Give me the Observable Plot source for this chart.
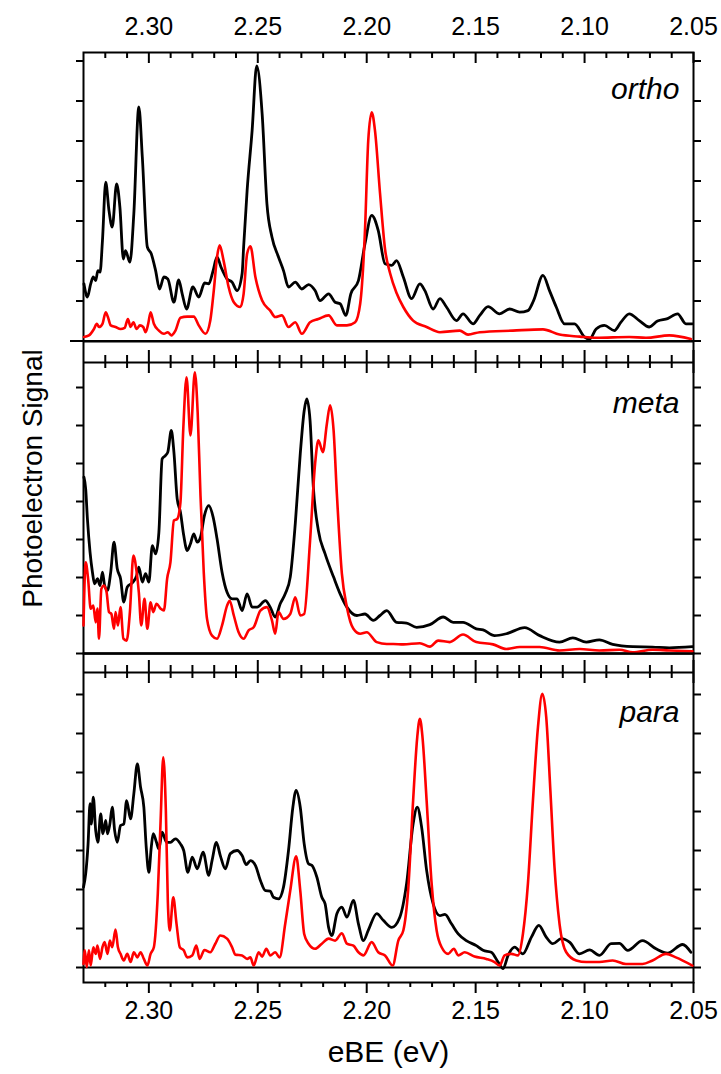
<!DOCTYPE html>
<html><head><meta charset="utf-8">
<script src="https://cdn.jsdelivr.net/npm/d3@7"></script>
<script src="https://cdn.jsdelivr.net/npm/@observablehq/plot@0.6"></script>
<style>
html,body{margin:0;padding:0;background:#fff;}
#chart{position:relative;width:721px;height:1074px;overflow:hidden;}
#chart svg{position:absolute;left:0;}
</style></head><body><div id="chart"></div>
<script>
// ---- axis ticks (eV) ----
const majorTicks = [2.30, 2.25, 2.20, 2.15, 2.10, 2.05];
const minorTicks = [2.32, 2.31, 2.29, 2.28, 2.27, 2.26, 2.24, 2.23, 2.22, 2.21, 2.19, 2.18, 2.17, 2.16, 2.14, 2.13, 2.12, 2.11, 2.09, 2.08, 2.07, 2.06];
const yTicks = [0, 1, 2, 3, 4, 5, 6, 7];
const panelNames = ["ortho", "meta", "para"];

// ---- spectra: [eBE (eV), signal (arb. units)] ----
const orthoBlack = [[2.3298,1.43],[2.3282,1.10],[2.3267,1.43],[2.3255,1.60],[2.3244,1.51],[2.3234,1.76],[2.3224,1.72],[2.3213,2.51],[2.3198,3.97],[2.3183,3.26],[2.3168,2.85],[2.3148,3.93],[2.3133,3.35],[2.3117,2.05],[2.3107,2.26],[2.3087,1.97],[2.3069,3.18],[2.3046,5.85],[2.3030,4.60],[2.3007,2.35],[2.2989,2.18],[2.2969,1.76],[2.2951,1.30],[2.2931,1.60],[2.2913,1.55],[2.2885,0.97],[2.2863,1.53],[2.2847,1.18],[2.2827,0.80],[2.2798,1.35],[2.2771,1.10],[2.2744,1.45],[2.2725,1.43],[2.2705,1.76],[2.2687,2.10],[2.2669,1.85],[2.2641,1.55],[2.2618,1.47],[2.2595,1.26],[2.2572,1.68],[2.2565,2.35],[2.2549,3.76],[2.2526,5.26],[2.2505,6.88],[2.2480,5.68],[2.2458,3.43],[2.2435,2.60],[2.2405,2.10],[2.2382,1.76],[2.2359,1.35],[2.2328,1.47],[2.2298,1.30],[2.2267,1.41],[2.2237,1.26],[2.2214,1.01],[2.2175,1.18],[2.2145,0.97],[2.2122,0.93],[2.2096,0.64],[2.2073,1.18],[2.2038,1.51],[2.2008,2.43],[2.1977,3.14],[2.1947,2.76],[2.1916,1.93],[2.1885,1.89],[2.1863,2.01],[2.1832,1.60],[2.1794,1.06],[2.1756,1.43],[2.1733,1.26],[2.1695,0.80],[2.1664,1.06],[2.1634,0.85],[2.1588,0.51],[2.1558,0.68],[2.1512,0.43],[2.1481,0.64],[2.1443,0.86],[2.1390,0.68],[2.1344,0.80],[2.1298,0.72],[2.1260,0.76],[2.1234,1.01],[2.1191,1.64],[2.1161,1.26],[2.1130,0.85],[2.1092,0.43],[2.1046,0.43],[2.1000,0.10],[2.0977,0.05],[2.0947,0.30],[2.0909,0.39],[2.0863,0.26],[2.0833,0.47],[2.0795,0.68],[2.0749,0.51],[2.0703,0.35],[2.0665,0.50],[2.0619,0.56],[2.0573,0.68],[2.0535,0.43],[2.0505,0.43]];
const orthoRed = [[2.3298,0.10],[2.3275,0.14],[2.3252,0.30],[2.3239,0.43],[2.3229,0.35],[2.3213,0.43],[2.3198,0.72],[2.3188,0.60],[2.3175,0.39],[2.3153,0.35],[2.3130,0.30],[2.3111,0.33],[2.3096,0.55],[2.3084,0.35],[2.3071,0.47],[2.3056,0.30],[2.3041,0.39],[2.3026,0.35],[2.3015,0.22],[2.3003,0.43],[2.2992,0.72],[2.2977,0.43],[2.2954,0.26],[2.2931,0.18],[2.2913,0.22],[2.2897,0.14],[2.2878,0.26],[2.2855,0.58],[2.2824,0.61],[2.2794,0.61],[2.2771,0.39],[2.2740,0.18],[2.2718,0.51],[2.2702,1.26],[2.2687,2.10],[2.2675,2.39],[2.2657,2.01],[2.2634,1.35],[2.2610,0.97],[2.2580,0.85],[2.2565,1.18],[2.2549,2.18],[2.2534,2.37],[2.2511,1.60],[2.2480,1.01],[2.2443,0.76],[2.2420,0.60],[2.2389,0.64],[2.2359,0.35],[2.2328,0.47],[2.2298,0.18],[2.2260,0.47],[2.2222,0.55],[2.2175,0.64],[2.2137,0.39],[2.2091,0.39],[2.2053,0.47],[2.2030,0.93],[2.2008,2.76],[2.1993,5.01],[2.1977,5.72],[2.1962,5.26],[2.1939,3.70],[2.1916,2.30],[2.1893,1.70],[2.1863,1.20],[2.1832,0.85],[2.1787,0.51],[2.1725,0.35],[2.1664,0.22],[2.1573,0.26],[2.1535,0.16],[2.1481,0.22],[2.1329,0.26],[2.1191,0.29],[2.1115,0.16],[2.1023,0.11],[2.0947,0.08],[2.0795,0.10],[2.0718,0.08],[2.0611,0.14],[2.0512,0.05]];

const metaBlack = [[2.3298,4.64],[2.3290,4.33],[2.3282,3.54],[2.3270,2.67],[2.3259,2.14],[2.3249,1.83],[2.3236,1.97],[2.3224,1.79],[2.3213,2.14],[2.3203,1.79],[2.3190,1.66],[2.3175,2.14],[2.3160,2.93],[2.3145,2.23],[2.3130,1.97],[2.3115,1.35],[2.3099,1.75],[2.3076,1.86],[2.3056,2.05],[2.3046,2.27],[2.3030,1.88],[2.3015,2.10],[2.3000,1.88],[2.2984,2.84],[2.2969,2.62],[2.2954,3.19],[2.2939,5.12],[2.2924,5.21],[2.2913,5.30],[2.2897,5.87],[2.2885,5.30],[2.2870,4.07],[2.2855,3.72],[2.2840,3.11],[2.2824,2.71],[2.2809,2.89],[2.2794,3.15],[2.2778,2.93],[2.2763,3.06],[2.2745,3.63],[2.2725,3.89],[2.2705,3.59],[2.2687,3.02],[2.2664,2.14],[2.2641,1.61],[2.2618,1.44],[2.2595,1.44],[2.2572,1.13],[2.2549,1.57],[2.2526,1.22],[2.2503,1.22],[2.2465,1.39],[2.2443,1.22],[2.2420,0.96],[2.2397,1.31],[2.2374,1.57],[2.2351,2.01],[2.2328,3.41],[2.2305,5.26],[2.2287,6.39],[2.2275,6.70],[2.2260,6.13],[2.2245,4.38],[2.2222,3.24],[2.2191,2.62],[2.2152,2.01],[2.2122,1.57],[2.2091,1.22],[2.2045,1.00],[2.2008,1.04],[2.1970,0.87],[2.1939,1.00],[2.1908,1.13],[2.1863,0.82],[2.1817,0.80],[2.1771,0.69],[2.1710,0.76],[2.1649,0.96],[2.1603,0.82],[2.1558,0.82],[2.1497,0.65],[2.1466,0.62],[2.1413,0.47],[2.1359,0.52],[2.1275,0.68],[2.1206,0.47],[2.1115,0.30],[2.1054,0.41],[2.0992,0.30],[2.0932,0.36],[2.0871,0.24],[2.0779,0.18],[2.0688,0.17],[2.0611,0.15],[2.0505,0.18]];
const metaRed = [[2.3300,0.74],[2.3290,2.40],[2.3279,1.97],[2.3267,1.18],[2.3255,1.26],[2.3244,0.82],[2.3236,1.18],[2.3229,0.39],[2.3218,1.70],[2.3206,1.79],[2.3194,1.61],[2.3183,1.09],[2.3172,1.04],[2.3160,0.65],[2.3153,1.09],[2.3142,0.74],[2.3130,1.22],[2.3117,0.39],[2.3102,0.34],[2.3087,1.09],[2.3071,2.58],[2.3056,2.14],[2.3046,1.61],[2.3035,0.74],[2.3020,1.44],[2.3007,0.65],[2.2992,1.35],[2.2980,1.09],[2.2965,1.31],[2.2946,1.18],[2.2931,1.13],[2.2916,1.97],[2.2901,2.40],[2.2885,3.50],[2.2870,3.54],[2.2855,3.98],[2.2842,5.91],[2.2827,7.27],[2.2809,5.74],[2.2789,7.40],[2.2776,6.35],[2.2763,4.16],[2.2748,2.14],[2.2733,0.91],[2.2710,0.47],[2.2687,0.39],[2.2664,0.74],[2.2641,1.26],[2.2629,1.39],[2.2610,1.00],[2.2588,0.56],[2.2565,0.39],[2.2542,0.61],[2.2519,0.69],[2.2488,1.13],[2.2458,1.22],[2.2435,0.87],[2.2420,0.52],[2.2405,1.09],[2.2382,0.91],[2.2351,1.04],[2.2328,1.48],[2.2305,1.00],[2.2287,1.04],[2.2260,2.97],[2.2237,4.99],[2.2222,5.61],[2.2201,5.30],[2.2183,6.04],[2.2168,6.53],[2.2152,5.87],[2.2137,4.20],[2.2114,2.10],[2.2091,1.22],[2.2061,0.65],[2.2030,0.52],[2.2000,0.56],[2.1954,0.30],[2.1908,0.25],[2.1878,0.25],[2.1832,0.24],[2.1756,0.27],[2.1710,0.18],[2.1672,0.34],[2.1619,0.30],[2.1558,0.50],[2.1497,0.30],[2.1420,0.24],[2.1359,0.12],[2.1298,0.17],[2.1206,0.17],[2.1115,0.08],[2.1023,0.12],[2.0932,0.08],[2.0840,0.10],[2.0779,0.03],[2.0688,0.10],[2.0611,0.08],[2.0505,0.06]];

const paraBlack = [[2.3300,2.06],[2.3290,2.40],[2.3279,3.17],[2.3270,4.20],[2.3264,3.68],[2.3255,4.37],[2.3244,3.51],[2.3234,3.21],[2.3221,3.94],[2.3211,3.43],[2.3198,3.77],[2.3190,3.43],[2.3179,3.68],[2.3168,4.11],[2.3157,3.51],[2.3145,3.21],[2.3130,3.64],[2.3115,3.68],[2.3102,4.28],[2.3084,3.81],[2.3069,4.45],[2.3053,5.22],[2.3038,4.62],[2.3023,4.11],[2.3012,3.08],[2.3000,2.44],[2.2989,3.08],[2.2980,3.43],[2.2965,3.21],[2.2954,3.04],[2.2939,3.47],[2.2919,3.21],[2.2901,3.21],[2.2878,3.30],[2.2855,3.17],[2.2840,3.00],[2.2821,2.44],[2.2801,2.83],[2.2778,2.53],[2.2751,2.96],[2.2725,2.36],[2.2710,2.74],[2.2690,3.21],[2.2672,2.87],[2.2649,2.53],[2.2626,2.92],[2.2595,3.00],[2.2572,2.87],[2.2553,2.64],[2.2534,2.74],[2.2511,2.62],[2.2488,2.23],[2.2465,1.97],[2.2443,1.96],[2.2428,1.80],[2.2405,1.76],[2.2382,2.06],[2.2359,3.00],[2.2339,4.11],[2.2324,4.54],[2.2305,4.11],[2.2287,3.17],[2.2267,2.66],[2.2252,2.62],[2.2229,2.32],[2.2206,1.80],[2.2191,1.63],[2.2175,1.03],[2.2160,0.82],[2.2137,1.38],[2.2114,1.55],[2.2091,1.29],[2.2061,1.72],[2.2038,1.12],[2.2015,0.69],[2.1993,0.95],[2.1954,1.38],[2.1924,1.21],[2.1885,1.03],[2.1848,1.29],[2.1817,2.15],[2.1787,3.68],[2.1768,4.11],[2.1748,3.60],[2.1725,2.49],[2.1695,1.63],[2.1664,1.33],[2.1641,1.36],[2.1611,1.12],[2.1580,0.86],[2.1543,0.69],[2.1497,0.56],[2.1466,0.44],[2.1428,0.39],[2.1397,0.14],[2.1374,-0.03],[2.1351,0.31],[2.1321,0.52],[2.1283,0.35],[2.1244,0.78],[2.1210,1.08],[2.1176,0.78],[2.1146,0.61],[2.1107,0.74],[2.1069,0.65],[2.1023,0.35],[2.0977,0.45],[2.0932,0.31],[2.0878,0.61],[2.0840,0.62],[2.0802,0.44],[2.0734,0.69],[2.0672,0.48],[2.0619,0.37],[2.0550,0.59],[2.0512,0.39]];
const paraRed = [[2.3300,0.09],[2.3294,0.44],[2.3285,0.01],[2.3275,0.44],[2.3267,0.05],[2.3255,0.52],[2.3244,0.35],[2.3236,0.56],[2.3224,0.22],[2.3213,0.52],[2.3203,0.65],[2.3190,0.35],[2.3179,0.69],[2.3168,0.52],[2.3153,0.97],[2.3142,0.52],[2.3130,0.35],[2.3115,0.18],[2.3099,0.35],[2.3084,0.14],[2.3069,0.39],[2.3053,0.26],[2.3038,0.39],[2.3023,0.22],[2.3007,0.05],[2.2992,0.35],[2.2977,0.52],[2.2959,1.89],[2.2946,3.77],[2.2934,5.39],[2.2922,4.03],[2.2913,1.72],[2.2904,0.95],[2.2888,1.80],[2.2873,1.12],[2.2858,0.52],[2.2840,0.44],[2.2824,0.26],[2.2801,0.31],[2.2782,0.56],[2.2767,0.22],[2.2745,0.45],[2.2718,0.39],[2.2695,0.61],[2.2672,0.82],[2.2641,0.74],[2.2618,0.52],[2.2603,0.33],[2.2572,0.31],[2.2549,0.22],[2.2534,0.26],[2.2519,0.05],[2.2496,0.39],[2.2480,0.28],[2.2461,0.48],[2.2443,0.31],[2.2420,0.39],[2.2400,0.26],[2.2374,1.12],[2.2351,1.97],[2.2324,2.85],[2.2305,1.97],[2.2287,0.86],[2.2267,0.61],[2.2237,0.48],[2.2206,0.61],[2.2175,0.74],[2.2145,0.69],[2.2114,0.88],[2.2091,0.61],[2.2061,0.56],[2.2038,0.39],[2.2015,0.31],[2.1977,0.65],[2.1947,0.39],[2.1916,0.31],[2.1881,0.05],[2.1855,0.69],[2.1832,0.95],[2.1810,1.97],[2.1787,4.28],[2.1768,5.91],[2.1756,6.38],[2.1744,5.91],[2.1725,4.28],[2.1702,2.15],[2.1679,0.95],[2.1656,0.52],[2.1626,0.35],[2.1600,0.48],[2.1580,0.31],[2.1550,0.39],[2.1505,0.28],[2.1451,0.22],[2.1413,0.14],[2.1390,0.05],[2.1367,0.31],[2.1336,0.35],[2.1306,0.31],[2.1283,0.86],[2.1260,2.15],[2.1237,4.28],[2.1214,6.16],[2.1194,7.02],[2.1176,6.42],[2.1157,4.54],[2.1138,2.57],[2.1115,1.12],[2.1084,0.39],[2.1038,0.18],[2.0992,0.14],[2.0932,0.14],[2.0871,0.18],[2.0810,0.09],[2.0734,0.09],[2.0688,0.18],[2.0626,0.35],[2.0581,0.26],[2.0505,0.05]];

// ---- layout ----
const W = 721, ML = 83, MR = 28;
const FONT = '"Liberation Sans", Arial, Helvetica, sans-serif';
const xDomain = [2.33, 2.05];
const RED = "#ff0000";
const style = {background: "transparent", overflow: "visible", fontFamily: FONT, color: "black"};

const rows = (pairs) => pairs.map(([x, y]) => ({x, y}));
const lineMarks = (black, red) => [
  Plot.line(rows(black), {x: "x", y: "y", stroke: "black", strokeWidth: 2.8, curve: "monotone-x"}),
  Plot.line(rows(red), {x: "x", y: "y", stroke: RED, strokeWidth: 2.6, curve: "monotone-x"})
];
const yAxes = () => [
  Plot.axisY({anchor: "left", ticks: yTicks, tickSize: 7, tickFormat: () => "", label: null, strokeWidth: 2}),
  Plot.axisY({anchor: "right", ticks: yTicks, tickSize: 7, tickFormat: () => "", label: null, strokeWidth: 2})
];
const nameMark = (name, dy) => Plot.text([name], {frameAnchor: "top-right", dx: -14, dy, lineAnchor: "top", fontSize: 30, fontStyle: "italic"});
const crossTicks = (area) => [
  Plot.tickX(majorTicks, {x: d => d, stroke: "black", strokeWidth: 2, insetTop: -12, insetBottom: area - 11}),
  Plot.tickX(minorTicks, {x: d => d, stroke: "black", strokeWidth: 2, insetTop: -7, insetBottom: area - 6})
];

// ortho
const orthoArea = 288.5, orthoY = [0, 7.2125];
const ortho = Plot.plot({
  width: W, height: 52 + orthoArea + 4.5, marginTop: 52, marginBottom: 4.5, marginLeft: ML, marginRight: MR,
  style,
  x: {domain: xDomain},
  y: {domain: orthoY},
  marks: [
    Plot.frame({stroke: "black", strokeWidth: 2}),
    Plot.ruleY([0], {stroke: "black", strokeWidth: 2, insetLeft: -13}),
    Plot.axisX({anchor: "top", ticks: majorTicks, tickSize: 0, tickPadding: 18, tickFormat: ".2f", fontSize: 25, label: null}),
    Plot.tickX(majorTicks, {x: d => d, stroke: "black", strokeWidth: 2, insetBottom: orthoArea - 11}),
    Plot.tickX(minorTicks, {x: d => d, stroke: "black", strokeWidth: 2, insetBottom: orthoArea - 6}),
    ...yAxes(),
    ...lineMarks(orthoBlack, orthoRed),
    nameMark(panelNames[0], 24.7)
  ]
});

// meta
const metaArea = 291, metaY = [0, 7.658];
const meta = Plot.plot({
  width: W, height: 21 + metaArea + 2, marginTop: 21, marginBottom: 2, marginLeft: ML, marginRight: MR,
  style,
  x: {domain: xDomain, axis: null},
  y: {domain: metaY},
  marks: [
    Plot.frame({stroke: "black", strokeWidth: 2, insetTop: -21}),
    Plot.ruleY([metaY[1]], {stroke: "black", strokeWidth: 2}),
    Plot.ruleY([0], {stroke: "black", strokeWidth: 2}),
    ...crossTicks(metaArea),
    ...yAxes(),
    ...lineMarks(metaBlack, metaRed),
    nameMark(panelNames[1], 28.7),
    Plot.text(["Photoelectron Signal"], {frameAnchor: "left", rotate: -90, dx: -50, dy: -29.5, textAnchor: "middle", lineAnchor: "middle", fontSize: 28})
  ]
});

// para
const paraArea = 310, paraY = [-0.3846, 7.564];
const para = Plot.plot({
  width: W, height: 19 + paraArea + 92, marginTop: 19, marginBottom: 92, marginLeft: ML, marginRight: MR,
  style,
  x: {domain: xDomain},
  y: {domain: paraY},
  marks: [
    Plot.frame({stroke: "black", strokeWidth: 2, insetTop: -19}),
    Plot.ruleY([paraY[1]], {stroke: "black", strokeWidth: 2}),
    Plot.ruleY([0], {stroke: "black", strokeWidth: 2}),
    ...crossTicks(paraArea),
    Plot.tickX(majorTicks, {x: d => d, stroke: "black", strokeWidth: 2, insetTop: paraArea, insetBottom: -11}),
    Plot.tickX(minorTicks, {x: d => d, stroke: "black", strokeWidth: 2, insetTop: paraArea, insetBottom: -5}),
    Plot.axisX({anchor: "bottom", ticks: majorTicks, tickSize: 0, tickPadding: 19, tickFormat: ".2f", fontSize: 25, label: null}),
    ...yAxes(),
    ...lineMarks(paraBlack, paraRed),
    nameMark(panelNames[2], 27.7),
    Plot.text(["eBE (eV)"], {frameAnchor: "bottom", dy: 70, lineAnchor: "middle", fontSize: 30})
  ]
});

const chart = document.getElementById("chart");
[[ortho, 0], [meta, 341], [para, 653]].forEach(([svg, top]) => {
  svg.style.top = top + "px";
  chart.appendChild(svg);
});
</script>
</body></html>
